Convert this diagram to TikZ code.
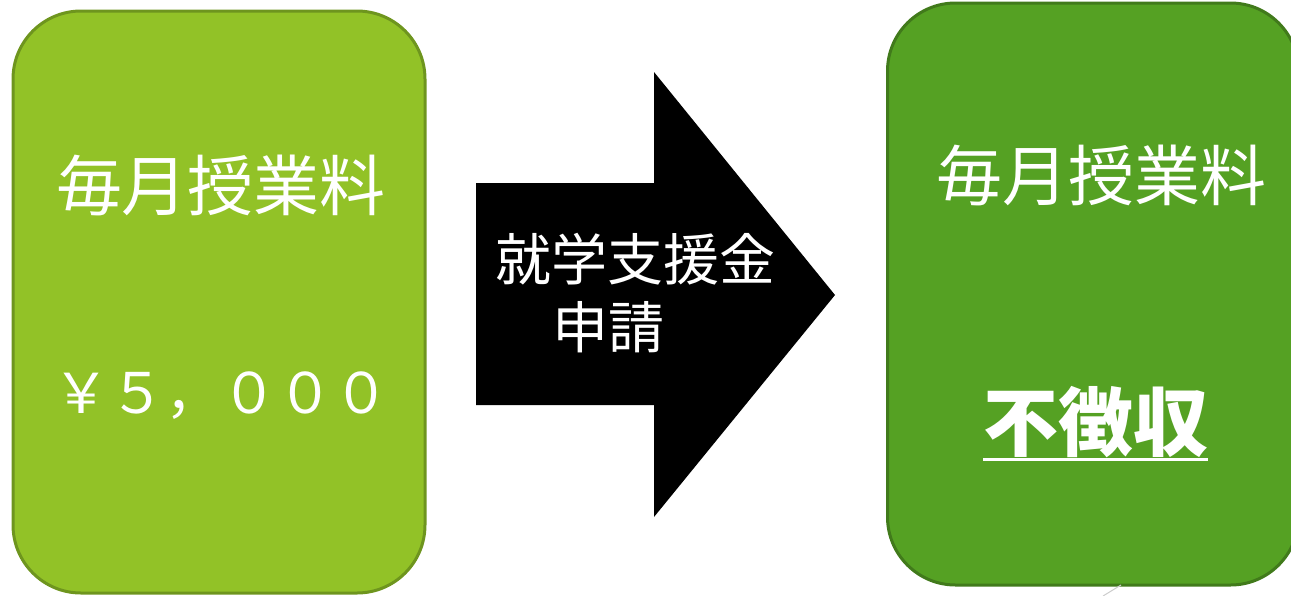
\documentclass[tikz,border=0pt]{standalone}
\usepackage{fontspec}
\newfontfamily\jp{Noto Sans CJK JP}
\definecolor{lgfill}{HTML}{92C227}
\definecolor{lgline}{HTML}{6E951E}
\definecolor{dgfill}{HTML}{55A123}
\definecolor{dgline}{HTML}{417A1B}
\tikzset{
  card/.style={rounded corners=68pt, line width=3pt, minimum width=#1, minimum height=582pt, inner sep=0pt},
  wtxt/.style={text=white, inner sep=0pt, font=\jp},
}
\begin{document}
\begin{tikzpicture}[x=1pt,y=-1pt]
\useasboundingbox (0,0) rectangle (1291,595);
\clip (0,0) rectangle (1291,595);
% cards
\node[card=412pt, draw=lgline, fill=lgfill] (left) at (219,302) {};
\node[card=411pt, draw=dgline, fill=dgfill] (right) at (1093,294) {};
% arrow
\path[fill=black] (476,183) -- (654,183) -- (654,72) -- (835,295) -- (654,517) -- (654,405) -- (476,405) -- cycle;
\coordinate (arrowc) at (655,294);
% texts
\node[wtxt, font=\jp\fontsize{66}{66}\selectfont] (l1) at (221,185) {毎月授業料};
\node[wtxt, font=\jp\fontsize{56}{56}\selectfont] (l2) at (221,396) {￥５，０００};
\node[wtxt, font=\jp\fontsize{66}{66}\selectfont] (r1) at (1101,175) {毎月授業料};
\node[wtxt, font=\jp\bfseries\fontsize{75}{75}\selectfont] (r2) at (1096,422) {不徴収};
\draw[white, line width=3pt] (983,459) -- (1208,459);
\node[wtxt, font=\jp\fontsize{56}{56}\selectfont] (a1) at (635,259) {就学支援金};
\node[wtxt, font=\jp\fontsize{56}{56}\selectfont] (a2) at (608,327) {申請};
% faint stray line
\draw[black!20, line width=1pt] (1103,596) -- (1121,585);
\end{tikzpicture}
\end{document}
